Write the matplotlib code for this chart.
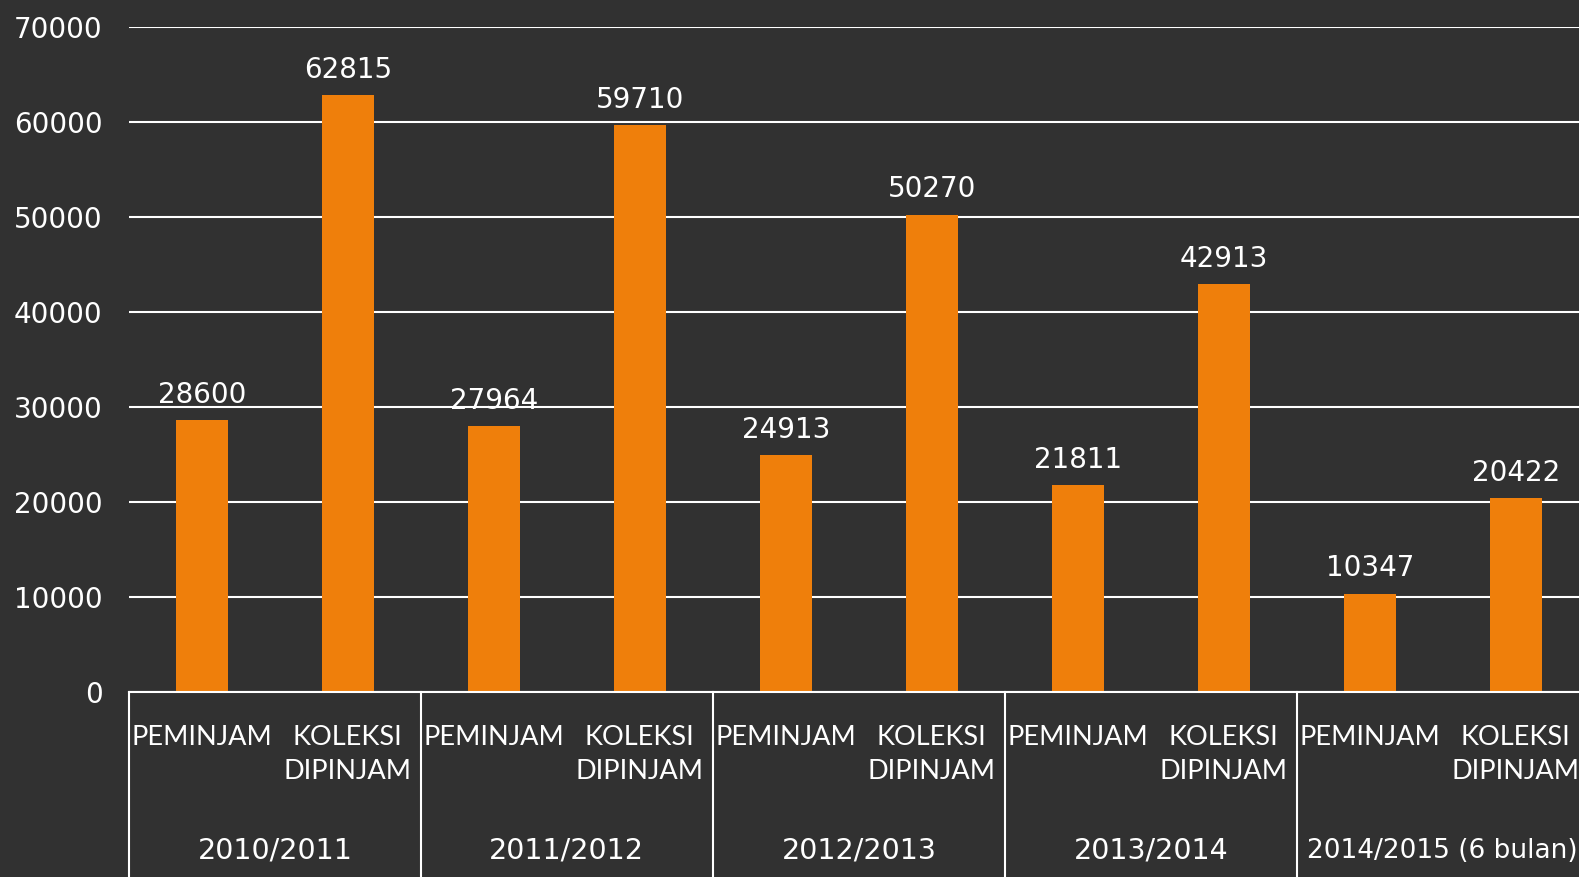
import matplotlib
matplotlib.use("Agg")
import matplotlib.pyplot as plt
import matplotlib.transforms as mtransforms

groups = ["2010/2011", "2011/2012", "2012/2013", "2013/2014", "2014/2015 (6 bulan)"]
subcats = ["PEMINJAM", "KOLEKSI\nDIPINJAM"]
peminjam = [28600, 27964, 24913, 21811, 10347]
koleksi = [62815, 59710, 50270, 42913, 20422]
yticks = [0, 10000, 20000, 30000, 40000, 50000, 60000, 70000]

plt.rcParams['font.family'] = ['Lato', 'DejaVu Sans']
num_font = ['DejaVu Sans']
bg = '#313131'
bar_color = '#EF7F0B'

fig = plt.figure(figsize=(15.79, 8.77), dpi=100, facecolor=bg)
ax = fig.add_axes([0.0816, 0.2112, 0.9246, 0.7578])
ax.set_facecolor(bg)

values = []
for p, k in zip(peminjam, koleksi):
    values += [p, k]
xs = list(range(len(values)))
ax.bar(xs, values, width=0.36, color=bar_color, zorder=3)
for x, v in zip(xs, values):
    ax.annotate(str(v), (x, v), xytext=(0, 8), textcoords='offset points',
                ha='center', va='bottom', color='white', fontsize=20,
                family=num_font, zorder=4)

ax.set_xlim(-0.5, len(values) - 0.5)
ax.set_ylim(0, 70000)
ax.set_yticks(yticks)
ax.set_yticklabels([str(t) for t in yticks], color='white', fontsize=20,
                   family=num_font)
ax.tick_params(axis='y', length=0, pad=19)
ax.tick_params(axis='x', length=0, labelbottom=False)
ax.grid(axis='y', color='white', linewidth=1.5, zorder=1)
for s in ['top', 'right', 'left']:
    ax.spines[s].set_visible(False)
ax.spines['bottom'].set_color('white')
ax.spines['bottom'].set_linewidth(1.5)
ax.spines['bottom'].set_zorder(5)

trans = mtransforms.blended_transform_factory(ax.transData, ax.transAxes)
px = 1.0 / (0.7578 * 877)
for i, x in enumerate(xs):
    ax.text(x, -33 * px, subcats[i % 2], transform=trans, ha='center', va='top',
            color='white', fontsize=19.5, linespacing=1.45, clip_on=False)
for g, name in enumerate(groups):
    fs = 20.5 if g < len(groups) - 1 else 19
    ax.text(2 * g + 0.5, -159 * px, name, transform=trans, ha='center', va='center',
            color='white', fontsize=fs, family=num_font, clip_on=False)
for b in range(len(groups) + 1):
    ax.plot([2 * b - 0.5, 2 * b - 0.5], [0, -0.3], transform=trans, color='white',
            linewidth=1.5, clip_on=False, zorder=5)

fig.savefig('out.png', dpi=100, facecolor=bg)
